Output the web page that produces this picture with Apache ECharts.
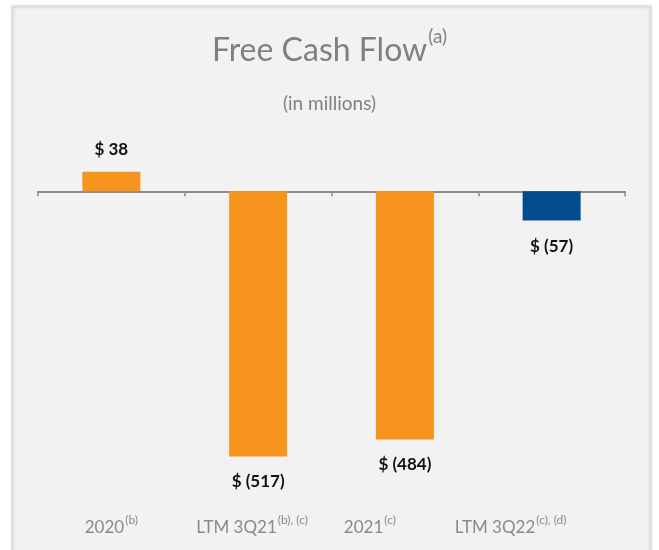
<!DOCTYPE html>
<html>
<head>
<meta charset="utf-8">
<script src="https://cdn.jsdelivr.net/npm/echarts@6/dist/echarts.min.js"></script>
<style>
  html, body { margin: 0; padding: 0; background: #ffffff; }
  #chart { width: 659px; height: 550px; }
</style>
</head>
<body>
<div id="chart"></div>
<script>
// ---- data ----
const categories = ['2020', 'LTM 3Q21', '2021', 'LTM 3Q22'];
const footnotes = ['(b)', '(b), (c)', '(c)', '(c), (d)'];
const freeCashFlow = [38, -517, -484, -57];
const barColors = ['#F7941E', '#F7941E', '#F7941E', '#004C8F'];
const labelShift = [0, 6, 35, 41]; // horizontal offset of category text (px, leftwards)

const chart = echarts.init(document.getElementById('chart'), null, { renderer: 'canvas' });
const FONT = 'Lato, "Open Sans", sans-serif';

const labelData = categories.map((c, i) => ({
  value: c,
  textStyle: { padding: [0, labelShift[i] * 2, 0, 0] }
}));

const option = {
  backgroundColor: '#ffffff',
  animation: false,
  graphic: [{
    type: 'rect',
    z: -10,
    shape: { x: 12.5, y: 6.5, width: 638, height: 560 },
    style: { fill: '#f2f2f2', stroke: '#dcdcdc', lineWidth: 2, shadowBlur: 3, shadowColor: 'rgba(0,0,0,0.12)' },
    silent: true
  }],
  title: [{
    text: '{t|Free Cash Flow}{s|(a)}',
    left: 'center',
    top: 22,
    textStyle: {
      fontWeight: 'normal',
      rich: {
        t: { fontFamily: FONT, fontSize: 32, fontWeight: 'normal', color: '#808080', lineHeight: 40, verticalAlign: 'bottom' },
        s: { fontFamily: FONT, fontSize: 19, fontWeight: 'normal', color: '#808080', lineHeight: 40, verticalAlign: 'top', padding: [0, 0, 0, 1] }
      }
    }
  }, {
    text: '(in millions)',
    left: 'center',
    top: 89,
    textStyle: { fontFamily: FONT, fontSize: 19, fontWeight: 'normal', color: '#808080' }
  }],
  grid: { left: 38, right: 34, top: 140, height: 359, containLabel: false },
  yAxis: { type: 'value', min: -600, max: 100, show: false },
  xAxis: [{
    type: 'category',
    data: categories,
    position: 'bottom',
    axisLine: { onZero: true, lineStyle: { color: '#8c8c8c', width: 2 } },
    axisTick: { show: true, length: 5, lineStyle: { color: '#8c8c8c', width: 1.5 } },
    axisLabel: { show: false },
    splitLine: { show: false }
  }, {
    type: 'category',
    data: labelData,
    position: 'bottom',
    axisLine: { show: false, onZero: false },
    axisTick: { show: false },
    splitLine: { show: false },
    axisLabel: {
      interval: 0,
      margin: 15,
      formatter: function (v, i) { return '{m|' + v + '}{s|' + footnotes[i] + '}'; },
      rich: {
        m: { fontFamily: FONT, fontSize: 17, color: '#8a8a8a', lineHeight: 22, verticalAlign: 'bottom' },
        s: { fontFamily: FONT, fontSize: 12, color: '#8a8a8a', lineHeight: 22, verticalAlign: 'top', padding: [0, 0, 0, 1] }
      }
    }
  }],
  series: [{
    type: 'bar',
    xAxisIndex: 0,
    barWidth: 58,
    data: freeCashFlow.map((v, i) => ({
      value: v,
      itemStyle: { color: barColors[i] },
      label: { position: v >= 0 ? 'top' : 'bottom', distance: v >= 0 ? 14 : 17 }
    })),
    label: {
      show: true,
      fontFamily: FONT,
      fontSize: 17,
      fontWeight: 'bold',
      color: '#111111',
      formatter: function (p) {
        const v = p.value;
        return v >= 0 ? '$ ' + v : '$ (' + Math.abs(v) + ')';
      }
    }
  }]
};

chart.setOption(option);
</script>
</body>
</html>
